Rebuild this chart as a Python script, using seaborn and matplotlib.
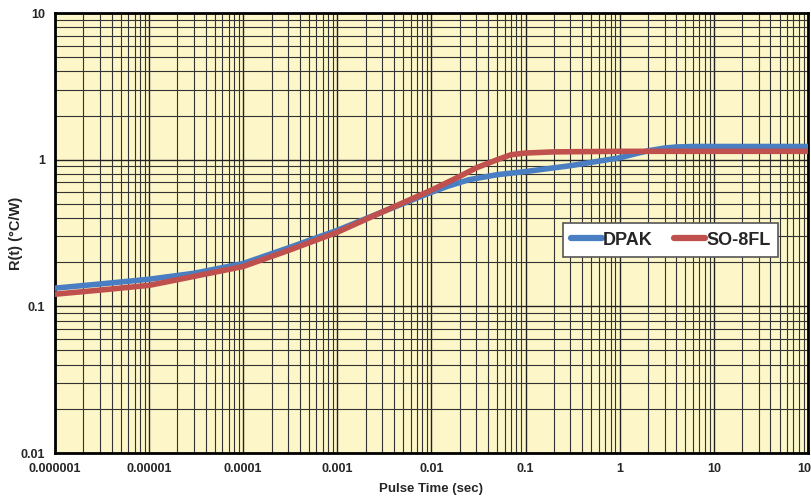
import pandas as pd
import numpy as np
import matplotlib
matplotlib.use("Agg")
import matplotlib.pyplot as plt
import seaborn as sns
from matplotlib.ticker import LogLocator, FixedLocator, FixedFormatter, NullFormatter

# data
dpak_t = [1e-6, 3e-6, 1e-5, 3e-5, 1e-4, 3e-4, 1e-3, 3e-3, 0.01, 0.015, 0.025, 0.05, 0.1, 0.3, 1, 1.5, 2, 3, 4, 6, 100]
dpak_r = [0.133, 0.142, 0.153, 0.168, 0.196, 0.25, 0.33, 0.44, 0.60, 0.66, 0.73, 0.79, 0.83, 0.91, 1.03, 1.10, 1.15, 1.20, 1.22, 1.23, 1.23]

so8_t = [1e-6, 3e-6, 1e-5, 3e-5, 1e-4, 3e-4, 1e-3, 3e-3, 0.01, 0.02, 0.03, 0.05, 0.07, 0.1, 0.2, 1, 100]
so8_r = [0.121, 0.129, 0.139, 0.16, 0.187, 0.24, 0.32, 0.44, 0.62, 0.77, 0.88, 1.0, 1.08, 1.11, 1.13, 1.14, 1.14]

x_ticks = [1e-6, 1e-5, 1e-4, 1e-3, 1e-2, 1e-1, 1, 10, 100]
x_labels = ["0.000001", "0.00001", "0.0001", "0.001", "0.01", "0.1", "1", "10", "100"]
y_ticks = [0.01, 0.1, 1, 10]
y_labels = ["0.01", "0.1", "1", "10"]

df = pd.concat([
    pd.DataFrame({"t": dpak_t, "r": dpak_r, "pkg": "DPAK"}),
    pd.DataFrame({"t": so8_t, "r": so8_r, "pkg": "SO-8FL"}),
])

sns.set_style("white")
plt.rcParams['font.family'] = ['Liberation Sans', 'DejaVu Sans']
plt.rcParams['font.weight'] = 'bold'

fig = plt.figure(figsize=(8.12, 5.0), dpi=100)
ax = fig.add_axes([0.0677, 0.094, 0.9273, 0.880])
ax.set_facecolor("#FCF6C8")

sns.lineplot(data=df, x="t", y="r", hue="pkg", palette={"DPAK": "#4A7EC3", "SO-8FL": "#C0504D"},
             linewidth=4, ax=ax, legend=True, zorder=3)

ax.set_xscale("log")
ax.set_yscale("log")
ax.set_xlim(1e-6, 100)
ax.set_ylim(0.01, 10)

ax.xaxis.set_major_locator(FixedLocator(x_ticks))
ax.xaxis.set_major_formatter(FixedFormatter(x_labels))
ax.yaxis.set_major_locator(FixedLocator(y_ticks))
ax.yaxis.set_major_formatter(FixedFormatter(y_labels))
ax.xaxis.set_minor_locator(LogLocator(base=10, subs=np.arange(2, 10), numticks=20))
ax.yaxis.set_minor_locator(LogLocator(base=10, subs=np.arange(2, 10), numticks=20))
ax.xaxis.set_minor_formatter(NullFormatter())
ax.yaxis.set_minor_formatter(NullFormatter())

ax.grid(which="major", color="#222222", linewidth=1.0, zorder=1)
ax.grid(which="minor", color="#333333", linewidth=0.8, zorder=1)
ax.set_axisbelow(True)

ax.tick_params(which="major", length=4, width=1, color="#555555", labelsize=9, pad=3, direction="out")
ax.tick_params(which="minor", length=0)
for lab in ax.get_xticklabels() + ax.get_yticklabels():
    lab.set_fontweight("bold")

for s in ax.spines.values():
    s.set_color("black")
    s.set_linewidth(2)

ax.set_xlabel("Pulse Time (sec)", fontsize=9.5, fontweight="bold", labelpad=6)
ax.set_ylabel("R(t) (°C/W)", fontsize=10.5, fontweight="bold")
ax.yaxis.set_label_coords(-0.043, 0.5)

leg = ax.legend(title=None, loc="center", bbox_to_anchor=(0.818, 0.484), ncol=2,
                fontsize=13, frameon=True, fancybox=False, handlelength=1.7,
                handletextpad=0.05, columnspacing=1.2, borderpad=0.45)
leg.get_frame().set_edgecolor("#555555")
leg.get_frame().set_linewidth(1.2)
leg.get_frame().set_facecolor("white")
leg.get_frame().set_alpha(1)
for t in leg.get_texts():
    t.set_fontweight("bold")
for l in leg.get_lines():
    l.set_linewidth(4.5)

fig.savefig("out.png", dpi=100)
